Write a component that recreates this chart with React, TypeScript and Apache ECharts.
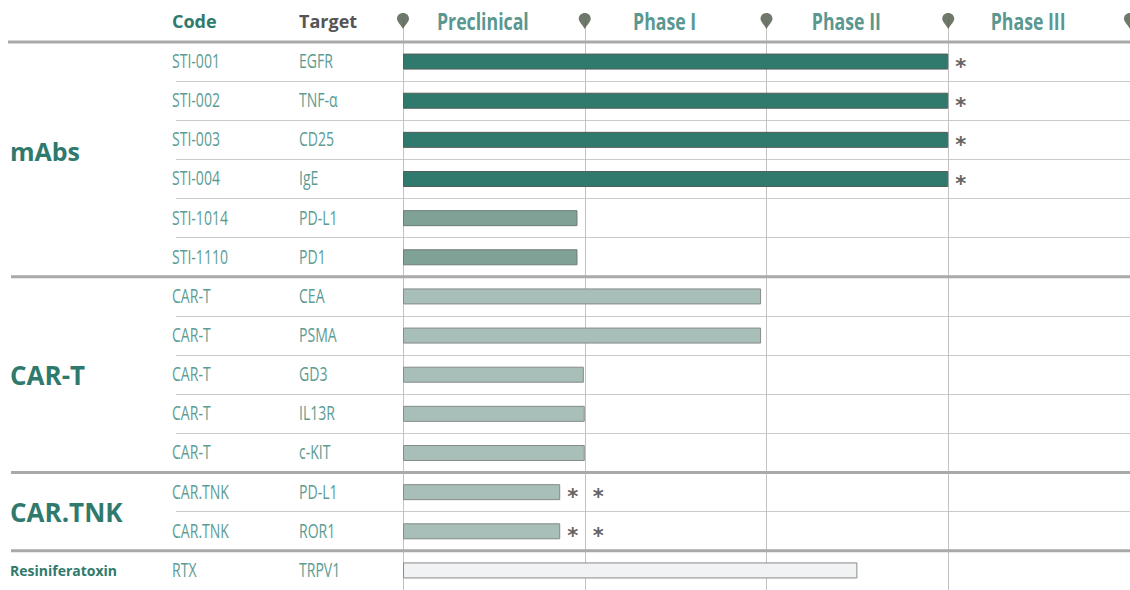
import React, { useEffect, useRef } from "react";
import * as echarts from "echarts";

// ---------- data ----------
const codes = ["STI-001", "STI-002", "STI-003", "STI-004", "STI-1014", "STI-1110", "CAR-T", "CAR-T", "CAR-T", "CAR-T", "CAR-T", "CAR.TNK", "CAR.TNK", "RTX"];
const targets = ["EGFR", "TNF-α", "CD25", "IgE", "PD-L1", "PD1", "CEA", "PSMA", "GD3", "IL13R", "c-KIT", "PD-L1", "ROR1", "TRPV1"];
const progress = [3.0, 3.0, 3.0, 3.0, 0.96, 0.96, 1.97, 1.97, 0.995, 1.0, 1.0, 0.865, 0.865, 2.5];
const notes = ["*", "*", "*", "*", "", "", "", "", "", "", "", "*  *", "*  *", ""];
const tones = ["dark", "dark", "dark", "dark", "mid", "mid", "light", "light", "light", "light", "light", "light", "light", "pale"];
const phases = ["Preclinical", "Phase I", "Phase II", "Phase III"];
const phaseBounds = [0, 1, 2, 3, 4];
const groupNames = ["mAbs", "CAR-T", "CAR.TNK", "Resiniferatoxin"];
const groupFirst = [0, 6, 11, 13];
const groupLast = [5, 10, 12, 13];
const groupSizes = [25, 26, 26, 14];
const groupShift = [-8, 0, 0, 0];

// ---------- styles ----------
const toneFill: Record<string, string> = { dark: "#2f7a6c", mid: "#7fa196", light: "#a8beb8", pale: "#f1f2f4" };
const toneBorder: Record<string, string> = { dark: "#535d59", mid: "#6d7c77", light: "#858b89", pale: "#8a8a8a" };
const SANS = "'Open Sans', 'Noto Sans', sans-serif";
const TEAL = "#2f7a6c";
const LIGHT_TEAL = "#5c9c94";
const PHASE_TEAL = "#5a9791";
const GRID_LEFT = 403;
const CODE_X = 172;
const TARGET_X = 299;
const GROUP_X = 10;
const W = 1130;
const H = 590;
const PIN = "path://M6,0C9.4,0,12,2.6,12,6C12,9.2,8.2,12.5,6,17C3.8,12.5,0,9.2,0,6C0,2.6,2.6,0,6,0Z";

export default function App() {
  const ref = useRef<HTMLDivElement>(null);
  useEffect(() => {
    if (!ref.current) return;
    const chart = echarts.init(ref.current, null, { renderer: "svg" });
    const rowIds = codes.map((_, i) => String(i));
    chart.setOption({
      animation: false,
      backgroundColor: "#ffffff",
      grid: [
        { left: GRID_LEFT, width: 730, top: 42, height: 551 },
        { left: GRID_LEFT, width: 730, top: 20, height: 22 },
      ],
      xAxis: [
        {
          type: "value", gridIndex: 0, min: 0, max: 4, interval: 1,
          axisLine: { show: false }, axisTick: { show: false }, axisLabel: { show: false },
          splitLine: { show: true, lineStyle: { color: "#c2c2c2", width: 1 } },
        },
        {
          type: "value", gridIndex: 1, min: 0, max: 4, interval: 1,
          axisLine: { show: false }, axisTick: { show: false }, axisLabel: { show: false },
          splitLine: { show: true, lineStyle: { color: "#c2c2c2", width: 1 } },
        },
      ],
      yAxis: [
        {
          type: "category", gridIndex: 0, data: rowIds, inverse: true, position: "left",
          axisLine: { show: false },
          axisTick: { show: true, length: GRID_LEFT - CODE_X - 4, lineStyle: { color: "#cacaca", width: 1 } },
          splitLine: { show: true, lineStyle: { color: "#cacaca", width: 1 } },
          axisLabel: { show: false },
        },
        { type: "value", gridIndex: 1, min: 0, max: 1, show: false },
      ],
      series: [
        {
          type: "bar", xAxisIndex: 0, yAxisIndex: 0, barWidth: 16,
          data: progress.map((v, i) => ({
            value: v,
            itemStyle: { color: toneFill[tones[i]], borderColor: toneBorder[tones[i]], borderWidth: 1 },
          })),
          label: {
            show: true, position: "right", distance: 7, offset: [0, 5],
            formatter: (p: any) => notes[p.dataIndex],
            color: "#666666", fontSize: 21, fontWeight: "bold", fontFamily: "'DejaVu Sans', sans-serif",
          },
        },
        {
          type: "scatter", xAxisIndex: 1, yAxisIndex: 1, clip: false,
          symbol: PIN, symbolSize: [12, 16], symbolOffset: [0, 1],
          itemStyle: { color: "#4b5746" },
          data: phaseBounds.map((b) => [b, 1]),
          z: 5,
        },
      ],
    });

    const c0 = chart.convertToPixel({ yAxisIndex: 0 }, 0) as unknown as number;
    const c1 = chart.convertToPixel({ yAxisIndex: 0 }, 1) as unknown as number;
    const band = c1 - c0;
    const rowTop = (i: number) => c0 + (i - 0.5) * band;
    const rowMid = (a: number, b: number) => (rowTop(a) + rowTop(b + 1)) / 2;
    const xPix = (v: number) => chart.convertToPixel({ xAxisIndex: 1 }, v) as unknown as number;

    const txt = (x: number, y: number, text: string, st: any, scaleX = 1) => ({
      type: "text", z: 100, x, y, scaleX,
      style: {
        text, fontFamily: SANS, align: st.align || "left", verticalAlign: "middle",
        textAlign: st.align || "left", textVerticalAlign: "middle", ...st,
      },
    });

    const graphics: any[] = [];
    graphics.push({
      type: "line", z: 100,
      shape: { x1: 8, y1: rowTop(0), x2: W, y2: rowTop(0) },
      style: { stroke: "#a9a9a9", lineWidth: 3 },
    });
    groupFirst.forEach((f, gi) => {
      if (gi > 0) {
        graphics.push({
          type: "line", z: 100,
          shape: { x1: GROUP_X + 1, y1: rowTop(f), x2: W, y2: rowTop(f) },
          style: { stroke: "#a9a9a9", lineWidth: 3 },
        });
      }
      graphics.push(txt(GROUP_X, rowMid(f, groupLast[gi]) + groupShift[gi], groupNames[gi],
        { fill: TEAL, fontSize: groupSizes[gi], fontWeight: "bold" }));
    });
    codes.forEach((c, i) => {
      const y = c0 + i * band - 1;
      graphics.push(txt(CODE_X, y, c, { fill: LIGHT_TEAL, fontSize: 19.5 }, 0.72));
      graphics.push(txt(TARGET_X, y, targets[i], { fill: LIGHT_TEAL, fontSize: 19.5 }, 0.72));
    });
    phases.forEach((p, i) => {
      graphics.push(txt(xPix(phaseBounds[i] + 0.5) - 11, 21, p,
        { fill: PHASE_TEAL, fontSize: 23, fontWeight: "bold", align: "center" }, 0.77));
    });
    graphics.push(txt(CODE_X, 21, "Code", { fill: TEAL, fontSize: 18, fontWeight: "bold" }));
    graphics.push(txt(TARGET_X, 21, "Target", { fill: "#555555", fontSize: 18, fontWeight: "bold" }));
    chart.setOption({ graphic: graphics });

    return () => chart.dispose();
  }, []);
  return <div ref={ref} style={{ position: "fixed", left: 0, top: 0, width: W, height: H, background: "#fff" }} />;
}
